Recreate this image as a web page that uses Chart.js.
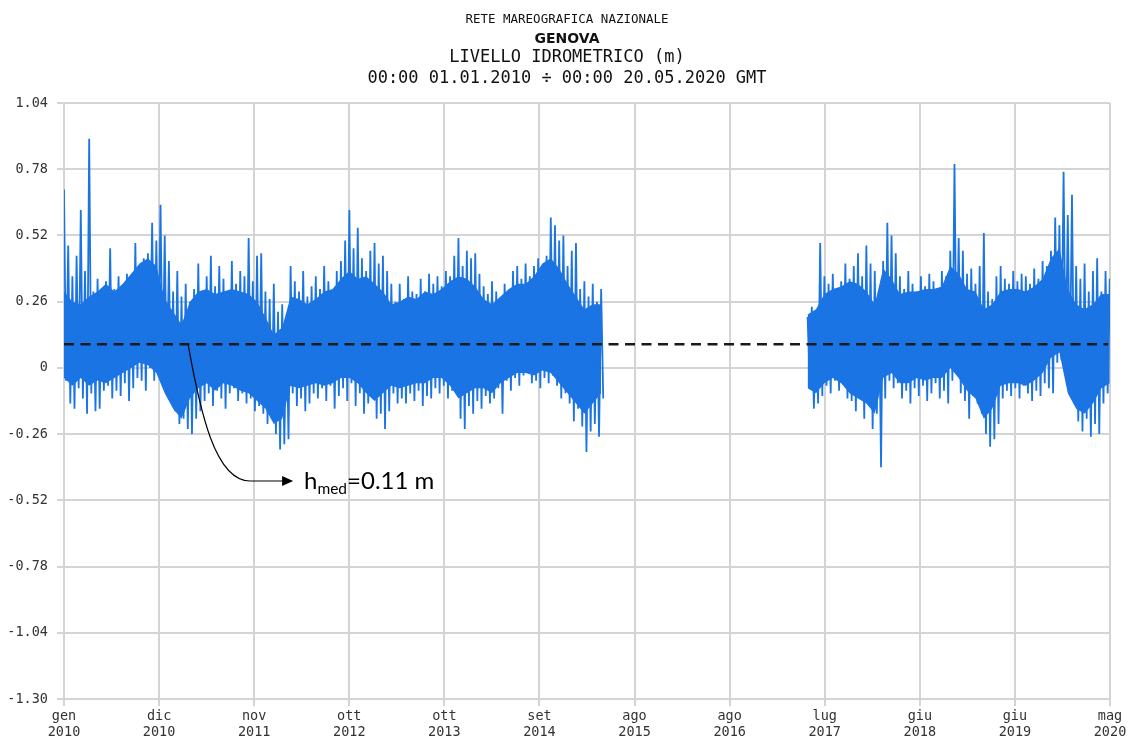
<!DOCTYPE html>
<html>
<head>
<meta charset="utf-8">
<script src="https://cdn.jsdelivr.net/npm/chart.js@4.4.1/dist/chart.umd.min.js"></script>
<style>
  html, body { margin: 0; padding: 0; background: #fff; }
  #wrap { position: relative; width: 1130px; height: 739px; }
  #chart { position: absolute; left: 0; top: 0; }
  .t { position: absolute; left: 0; width: 1134px; text-align: center; color: #111; white-space: pre; line-height: 1; }
  #t1 { top: 11.2px; font: 12.5px "DejaVu Sans Mono"; }
  #t2 { top: 29.6px; font: bold 14px "DejaVu Sans"; }
  #t3 { top: 46px; font: 17px "DejaVu Sans Mono"; }
  #t4 { top: 66.5px; font: 17px "DejaVu Sans Mono"; }
</style>
</head>
<body>
<div id="wrap">
  <canvas id="chart" width="1130" height="739"></canvas>
  <div class="t" id="t1">RETE MAREOGRAFICA NAZIONALE</div>
  <div class="t" id="t2">GENOVA</div>
  <div class="t" id="t3">LIVELLO IDROMETRICO (m)</div>
  <div class="t" id="t4">00:00 01.01.2010 ÷ 00:00 20.05.2020 GMT</div>
</div>
<script>
// --- 1. DATA ---
// x axis in months since 01.01.2010
const xSpan = 124.63;                 // 01.01.2010 -> 20.05.2020
const xTickLabels = [
  ['gen', '2010'], ['dic', '2010'], ['nov', '2011'], ['ott', '2012'],
  ['ott', '2013'], ['set', '2014'], ['ago', '2015'], ['ago', '2016'],
  ['lug', '2017'], ['giu', '2018'], ['giu', '2019'], ['mag', '2020']
];
const yTicks = [-1.30, -1.04, -0.78, -0.52, -0.26, 0, 0.26, 0.52, 0.78, 1.04];
const yTickLabels = ['-1.30', '-1.04', '-0.78', '-0.52', '-0.26', '0', '0.26', '0.52', '0.78', '1.04'];

// first block: jan 2010 -> may 2015
const seg1Start = 0;
// peaks / troughs in half-month bins
const seg1High = [
  0.70, 0.48, 0.36, 0.44, 0.62, 0.38, 0.90, 0.30, 0.35, 0.28,
  0.34, 0.47, 0.31, 0.36, 0.30, 0.37, 0.33, 0.49, 0.40, 0.43,
  0.45, 0.57, 0.50, 0.64, 0.52, 0.42, 0.30, 0.38, 0.28, 0.33,
  0.26, 0.31, 0.41, 0.30, 0.36, 0.44, 0.32, 0.40, 0.35, 0.30,
  0.42, 0.33, 0.38, 0.36, 0.51, 0.34, 0.44, 0.45, 0.30, 0.27,
  0.33, 0.22, 0.25, 0.19, 0.40, 0.34, 0.30, 0.38, 0.28, 0.32,
  0.36, 0.31, 0.40, 0.34, 0.28, 0.38, 0.42, 0.50, 0.62, 0.47,
  0.55, 0.43, 0.38, 0.46, 0.49, 0.41, 0.44, 0.38, 0.33, 0.26,
  0.33, 0.27, 0.36, 0.30, 0.29, 0.35, 0.30, 0.37, 0.33, 0.36,
  0.32, 0.38, 0.36, 0.44, 0.51, 0.40, 0.46, 0.43, 0.45, 0.37,
  0.32, 0.29, 0.34, 0.30, 0.27, 0.33, 0.30, 0.38, 0.40, 0.35,
  0.41, 0.36, 0.40, 0.43, 0.38, 0.44, 0.59, 0.56, 0.50, 0.52,
  0.40, 0.46, 0.49, 0.31, 0.34, 0.28, 0.33, 0.26, 0.31
];
const seg1Low = [
  -0.05, -0.14, -0.16, -0.08, -0.12, -0.18, -0.10, -0.17, -0.16, -0.09,
  -0.07, -0.12, -0.09, -0.11, -0.06, -0.13, -0.08, -0.04, -0.05, -0.09,
  0.00, -0.05, 0.03, -0.04, -0.08, -0.12, -0.17, -0.22, -0.20, -0.24,
  -0.26, -0.20, -0.17, -0.13, -0.10, -0.15, -0.09, -0.12, -0.16, -0.10,
  -0.08, -0.13, -0.10, -0.14, -0.12, -0.17, -0.15, -0.18, -0.22, -0.20,
  -0.26, -0.32, -0.30, -0.28, -0.10, -0.15, -0.12, -0.17, -0.14, -0.10,
  -0.12, -0.08, -0.13, -0.07, -0.16, -0.11, -0.08, -0.13, -0.06, -0.15,
  -0.10, -0.18, -0.14, -0.08, -0.20, -0.18, -0.24, -0.17, -0.10, -0.14,
  -0.12, -0.14, -0.10, -0.13, -0.09, -0.15, -0.11, -0.12, -0.08, -0.10,
  -0.07, -0.12, -0.09, -0.05, -0.20, -0.24, -0.15, -0.18, -0.13, -0.16,
  -0.11, -0.14, -0.12, -0.08, -0.18, -0.05, -0.09, -0.04, -0.07, -0.03,
  -0.02, -0.06, -0.05, -0.08, -0.04, -0.06, -0.03, -0.07, -0.12, -0.10,
  -0.14, -0.21, -0.16, -0.23, -0.33, -0.25, -0.22, -0.27, -0.12
];
// solid body of the trace, one value per month
const seg1CoreTop = [
  0.30, 0.26, 0.25, 0.28, 0.30, 0.33, 0.30, 0.33, 0.37, 0.41,
  0.43, 0.40, 0.27, 0.22, 0.17, 0.26, 0.30, 0.31, 0.29, 0.30,
  0.31, 0.30, 0.29, 0.26, 0.20, 0.13, 0.16, 0.28, 0.27, 0.25,
  0.27, 0.30, 0.31, 0.35, 0.38, 0.35, 0.36, 0.33, 0.30, 0.25,
  0.26, 0.28, 0.27, 0.30, 0.29, 0.31, 0.34, 0.36, 0.35, 0.32,
  0.27, 0.25, 0.28, 0.31, 0.33, 0.33, 0.36, 0.41, 0.43, 0.39,
  0.33, 0.28, 0.23, 0.25, 0.25
];
const seg1CoreBot = [
  -0.04, -0.07, -0.04, -0.07, -0.05, -0.06, -0.04, -0.02, 0.00, 0.02,
  0.01, -0.02, -0.10, -0.16, -0.20, -0.12, -0.08, -0.06, -0.09, -0.06,
  -0.07, -0.09, -0.10, -0.13, -0.16, -0.22, -0.20, -0.07, -0.08, -0.07,
  -0.06, -0.07, -0.06, -0.04, -0.04, -0.06, -0.10, -0.13, -0.10, -0.07,
  -0.08, -0.07, -0.06, -0.06, -0.04, -0.04, -0.07, -0.12, -0.10, -0.08,
  -0.08, -0.10, -0.06, -0.04, -0.02, -0.02, -0.03, -0.01, -0.02, -0.06,
  -0.10, -0.14, -0.18, -0.14, -0.10
];

// second block: may 2017 -> may 2020
const seg2Start = 88.6;
const seg2High = [
  0.20, 0.24, 0.21, 0.49, 0.36, 0.33, 0.37, 0.31, 0.34, 0.41,
  0.35, 0.40, 0.45, 0.36, 0.48, 0.41, 0.38, 0.30, 0.42, 0.57,
  0.52, 0.45, 0.36, 0.31, 0.38, 0.33, 0.30, 0.36, 0.32, 0.37,
  0.34, 0.31, 0.38, 0.36, 0.46, 0.80, 0.51, 0.46, 0.37, 0.39,
  0.33, 0.40, 0.53, 0.30, 0.27, 0.36, 0.40, 0.35, 0.33, 0.38,
  0.34, 0.37, 0.36, 0.33, 0.39, 0.35, 0.42, 0.40, 0.46, 0.59,
  0.56, 0.77, 0.60, 0.68, 0.40, 0.35, 0.41, 0.30, 0.38, 0.43,
  0.30, 0.38, 0.35
];
const seg2Low = [
  -0.04, -0.16, -0.14, -0.11, -0.07, -0.10, -0.05, -0.09, -0.06, -0.12,
  -0.13, -0.17, -0.10, -0.20, -0.14, -0.24, -0.18, -0.39, -0.12, -0.05,
  -0.08, -0.06, -0.12, -0.09, -0.14, -0.08, -0.11, -0.07, -0.13, -0.10,
  -0.06, -0.12, -0.09, -0.14, -0.05, -0.02, -0.10, -0.13, -0.20, -0.11,
  -0.14, -0.18, -0.26, -0.31, -0.28, -0.22, -0.12, -0.09, -0.11, -0.08,
  -0.12, -0.07, -0.10, -0.13, -0.09, -0.11, -0.06, -0.08, -0.10, 0.02,
  0.03, 0.00, -0.04, -0.14, -0.21, -0.25, -0.20, -0.27, -0.22, -0.26,
  -0.14, -0.10, -0.06
];
const seg2CoreTop = [
  0.21, 0.23, 0.29, 0.31, 0.32, 0.34, 0.33, 0.30, 0.25, 0.39,
  0.35, 0.29, 0.30, 0.30, 0.31, 0.31, 0.32, 0.40, 0.37, 0.31,
  0.30, 0.23, 0.25, 0.30, 0.31, 0.31, 0.30, 0.32, 0.35, 0.43,
  0.47, 0.31, 0.25, 0.23, 0.25, 0.29, 0.29
];
const seg2CoreBot = [
  -0.08, -0.10, -0.06, -0.04, -0.06, -0.10, -0.12, -0.14, -0.18, -0.04,
  -0.02, -0.06, -0.06, -0.04, -0.05, -0.04, -0.04, 0.00, -0.04, -0.09,
  -0.12, -0.20, -0.16, -0.07, -0.06, -0.06, -0.07, -0.05, -0.02, 0.04,
  0.06, -0.10, -0.16, -0.18, -0.14, -0.08, -0.06
];

// mean level line and its note
const hMedLine = 0.093;
const hMedText = '=0.11 m';
const dashEnd = 124.4;
const arrowStart = 14.78;   // where the arrow leaves the dashed line (months)
const arrowTip = 27.3;
const arrowLevel = -0.444;
const noteStart = 28.6;

// --- 2. HELPERS ---
// each bin becomes a high point then a low point, so the line zig-zags like the hourly trace
function zigzag(start, highs, lows) {
  const pts = [];
  highs.forEach((h, i) => {
    pts.push({ x: start + i * 0.5, y: h });
    pts.push({ x: start + i * 0.5 + 0.25, y: lows[i] });
  });
  return pts;
}

function monthly(start, values) {
  return values.map((v, i) => ({ x: start + i, y: v }));
}

const xTickPos = xTickLabels.map((_, i) => i * xSpan / (xTickLabels.length - 1));
const blue = '#1b74e4';
const gridColor = '#d4d4d4';
const tickFont = { family: 'DejaVu Sans Mono', size: 13.5 };

function traceDataset(points) {
  return {
    data: points,
    borderColor: blue,
    borderWidth: 1.8,
    borderJoinStyle: 'bevel',
    pointRadius: 0,
    tension: 0,
    fill: false
  };
}

// top edge of the body fills down to the next dataset (its bottom edge)
function coreDatasets(start, top, bot) {
  return [
    { data: monthly(start, top), borderWidth: 0, borderColor: blue, backgroundColor: blue, pointRadius: 0, fill: '+1' },
    { data: monthly(start, bot), borderWidth: 0, borderColor: blue, pointRadius: 0, fill: false }
  ];
}

// curved arrow + h_med label
const hMedNote = {
  id: 'hMedNote',
  afterDatasetsDraw(chart) {
    const { ctx, scales: { x, y } } = chart;
    const x0 = x.getPixelForValue(arrowStart);
    const y0 = y.getPixelForValue(hMedLine);
    const x1 = x.getPixelForValue(arrowTip);
    const y1 = y.getPixelForValue(arrowLevel);
    ctx.save();
    ctx.strokeStyle = '#000';
    ctx.fillStyle = '#000';
    ctx.lineWidth = 1.2;
    ctx.beginPath();
    ctx.moveTo(x0, y0);
    ctx.bezierCurveTo(x0 + 12, y0 + 67, x0 + 27, y1, x0 + 62, y1);
    ctx.lineTo(x1 - 9, y1);
    ctx.stroke();
    ctx.beginPath();
    ctx.moveTo(x1, y1);
    ctx.lineTo(x1 - 11, y1 - 5);
    ctx.lineTo(x1 - 11, y1 + 5);
    ctx.closePath();
    ctx.fill();

    let tx = x.getPixelForValue(noteStart);
    const base = y1 + 8;
    ctx.textBaseline = 'alphabetic';
    ctx.font = '24px Lato';
    ctx.fillText('h', tx, base);
    tx += ctx.measureText('h').width;
    ctx.font = '15.5px Lato';
    ctx.fillText('med', tx, base + 5);
    tx += ctx.measureText('med').width;
    ctx.font = '24px Lato';
    ctx.fillText(hMedText, tx, base);
    ctx.restore();
  }
};

// --- 3. CHART ---
new Chart(document.getElementById('chart'), {
  type: 'line',
  data: {
    datasets: [
      {
        data: [{ x: 0, y: hMedLine }, { x: dashEnd, y: hMedLine }],
        borderColor: '#1a1a1a',
        borderWidth: 2.5,
        borderDash: [10, 6.5],
        pointRadius: 0,
        fill: false
      },
      traceDataset(zigzag(seg1Start, seg1High, seg1Low)),
      traceDataset(zigzag(seg2Start, seg2High, seg2Low)),
      ...coreDatasets(seg1Start, seg1CoreTop, seg1CoreBot),
      ...coreDatasets(seg2Start, seg2CoreTop, seg2CoreBot)
    ]
  },
  options: {
    responsive: false,
    animation: false,
    layout: { padding: { top: 103, right: 20, bottom: 0, left: 0 } },
    plugins: { legend: { display: false }, tooltip: { enabled: false }, title: { display: false } },
    scales: {
      x: {
        type: 'linear',
        min: 0,
        max: xSpan,
        afterBuildTicks: s => { s.ticks = xTickPos.map(v => ({ value: v })); },
        afterFit: s => { s.height = 40; },
        ticks: {
          autoSkip: false,
          maxRotation: 0,
          padding: 2,
          color: '#333',
          font: tickFont,
          callback: (v, i) => xTickLabels[i]
        },
        grid: { color: gridColor, lineWidth: 2, tickLength: 7 },
        border: { color: gridColor, width: 2 }
      },
      y: {
        min: -1.30,
        max: 1.04,
        afterBuildTicks: s => { s.ticks = yTicks.map(v => ({ value: v })); },
        afterFit: s => { s.width = 64; },
        ticks: {
          padding: 9,
          color: '#333',
          font: tickFont,
          callback: (v, i) => yTickLabels[i]
        },
        grid: { color: gridColor, lineWidth: 2, tickLength: 7 },
        border: { color: gridColor, width: 2 }
      }
    }
  },
  plugins: [hMedNote]
});
</script>
</body>
</html>
